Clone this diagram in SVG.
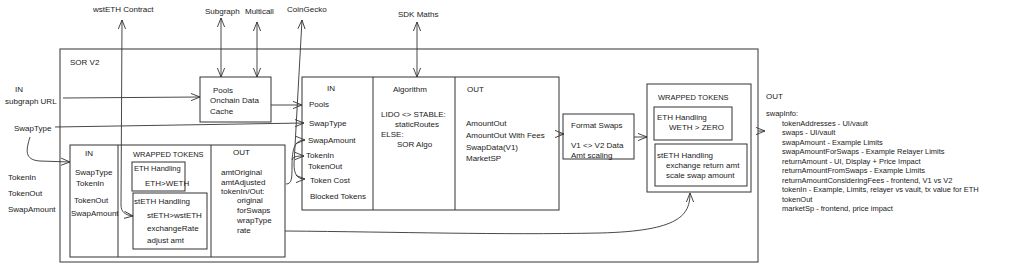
<svg xmlns="http://www.w3.org/2000/svg" width="1024" height="267" viewBox="0 0 1024 267">
<style>
.box{fill:none;stroke:#333;stroke-width:1}
.outer{fill:none;stroke:#555;stroke-width:1.2}
.ln{fill:none;stroke:#333;stroke-width:0.9}
text{font-family:"Liberation Sans",Arial,sans-serif;font-size:8px;fill:#1a1a1a}
.s{font-size:7.5px}
</style>
<defs>
<marker id="ah" viewBox="0 0 10 10" refX="10" refY="5" markerWidth="9" markerHeight="9" markerUnits="userSpaceOnUse" orient="auto-start-reverse">
<path d="M0,1 L10,5 L0,9" fill="none" stroke="#333" stroke-width="1"/>
</marker>
</defs>
<rect width="1024" height="267" fill="#fff"/>

<g id="external-labels">
<text x="93" y="12">wstETH Contract</text>
<text x="205" y="14">Subgraph</text>
<text x="245" y="14">Multicall</text>
<text x="287" y="12">CoinGecko</text>
<text x="398" y="17">SDK Maths</text>
</g>

<g id="inputs">
<text x="15" y="92">IN</text>
<text x="5" y="104">subgraph URL</text>
<text x="14" y="131">SwapType</text>
<text x="8" y="180">TokenIn</text>
<text x="8" y="196">TokenOut</text>
<text x="8" y="212">SwapAmount</text>
</g>

<g id="sor-v2">
<rect class="outer" x="60" y="49" width="698" height="213"/>
<text x="70" y="65">SOR V2</text>
</g>

<g id="pools">
<rect class="box" x="200" y="77" width="71" height="45"/>
<text x="213" y="93">Pools</text>
<text x="210" y="103">Onchain Data</text>
<text x="210" y="114">Cache</text>
</g>

<g id="prep">
<rect class="box" x="70" y="145" width="215" height="112"/>
<line class="box" x1="118" y1="145" x2="118" y2="257"/>
<line class="box" x1="211" y1="145" x2="211" y2="257"/>
<text x="85" y="156">IN</text>
<text x="75" y="175">SwapType</text>
<text x="76" y="186">TokenIn</text>
<text x="74" y="203">TokenOut</text>
<text x="71" y="216">SwapAmount</text>
<text class="s" x="133" y="157">WRAPPED TOKENS</text>
<rect class="box" x="132" y="162" width="53" height="29"/>
<text class="s" x="134" y="171">ETH Handling</text>
<text x="145" y="186">ETH&gt;WETH</text>
<rect class="box" x="133" y="193" width="74" height="56"/>
<text x="134" y="204">stETH Handling</text>
<text x="147" y="218">stETH&gt;wstETH</text>
<text x="147" y="231">exchangeRate</text>
<text x="147" y="243">adjust amt</text>
<text x="233" y="155">OUT</text>
<text x="221" y="175">amtOriginal</text>
<text x="221" y="185">amtAdjusted</text>
<text x="221" y="194">tokenIn/Out:</text>
<text x="237" y="203">original</text>
<text x="237" y="213">forSwaps</text>
<text x="237" y="223">wrapType</text>
<text x="237" y="233">rate</text>
</g>

<g id="algo">
<rect class="box" x="302" y="77" width="257" height="133"/>
<line class="box" x1="373" y1="77" x2="373" y2="210"/>
<line class="box" x1="455" y1="77" x2="455" y2="210"/>
<text x="327" y="91">IN</text>
<text x="309" y="107">Pools</text>
<text x="309" y="126">SwapType</text>
<text x="308" y="143">SwapAmount</text>
<text x="306" y="158">TokenIn</text>
<text x="308" y="169">TokenOut</text>
<text x="310" y="183">Token Cost</text>
<text x="310" y="199">Blocked Tokens</text>
<text x="393" y="92">Algorithm</text>
<text x="381" y="117">LIDO &lt;&gt; STABLE:</text>
<text x="395" y="127">staticRoutes</text>
<text x="381" y="137">ELSE:</text>
<text x="397" y="147">SOR Algo</text>
<text x="467" y="92">OUT</text>
<text x="466" y="126">AmountOut</text>
<text x="466" y="138">AmountOut With Fees</text>
<text x="466" y="150">SwapData(V1)</text>
<text x="466" y="161">MarketSP</text>
</g>

<g id="format-swaps">
<rect class="box" x="563" y="114" width="71" height="45"/>
<text x="571" y="128">Format Swaps</text>
<text x="571" y="148">V1 &lt;&gt; V2 Data</text>
<text x="571" y="158">Amt scaling</text>
</g>

<g id="wrapped-out">
<rect class="box" x="647" y="84" width="104" height="108"/>
<text class="s" x="658" y="100">WRAPPED TOKENS</text>
<rect class="box" x="654" y="107" width="78" height="33"/>
<text x="657" y="120">ETH Handling</text>
<text x="669" y="130">WETH &gt; ZERO</text>
<rect class="box" x="655" y="144" width="92" height="42"/>
<text x="657" y="158">stETH Handling</text>
<text x="666" y="168">exchange return amt</text>
<text x="666" y="178">scale swap amount</text>
</g>

<g id="output">
<text x="766" y="99">OUT</text>
<text class="s" x="766" y="116">swapInfo:</text>
<text class="s" x="782" y="126">tokenAddresses - UI/vault</text>
<text class="s" x="782" y="135">swaps - UI/vault</text>
<text class="s" x="782" y="145">swapAmount - Example Limits</text>
<text class="s" x="782" y="154">swapAmountForSwaps - Example Relayer Limits</text>
<text class="s" x="782" y="164">returnAmount - UI, Display + Price Impact</text>
<text class="s" x="782" y="173">returnAmountFromSwaps - Example Limits</text>
<text class="s" x="782" y="183">returnAmountConsideringFees - frontend, V1 vs V2</text>
<text class="s" x="782" y="192">tokenIn - Example, Limits, relayer vs vault, tx value for ETH</text>
<text class="s" x="782" y="202">tokenOut</text>
<text class="s" x="782" y="211">marketSp - frontend, price impact</text>
</g>

<g id="connectors">
<path class="ln" d="M133,216 C125,215 121,212 121,205 L122,20" marker-start="url(#ah)" marker-end="url(#ah)"/>
<path class="ln" d="M221,18 L221,77" marker-start="url(#ah)" marker-end="url(#ah)"/>
<path class="ln" d="M257,22 L257,77" marker-start="url(#ah)" marker-end="url(#ah)"/>
<path class="ln" d="M305,179 C297,179 294,174 294,164 L302,20" marker-start="url(#ah)" marker-end="url(#ah)"/>
<path class="ln" d="M286,184 C292,184 292,178 292,166 C292,148 295,140 305,140" marker-end="url(#ah)"/>
<path class="ln" d="M292,160 C293,156 298,156 304,156" marker-end="url(#ah)"/>
<path class="ln" d="M63,98 L200,97" marker-end="url(#ah)"/>
<path class="ln" d="M55,127 L304,123" marker-end="url(#ah)"/>
<path class="ln" d="M30,137 C26,150 24,160 40,161 L70,162" marker-end="url(#ah)"/>
<path class="ln" d="M271,105 L302,105" marker-end="url(#ah)"/>
<path class="ln" d="M417,22 L417,77" marker-start="url(#ah)" marker-end="url(#ah)"/>
<path class="ln" d="M559,134 L564,134" marker-end="url(#ah)"/>
<path class="ln" d="M634,137 L647,137" marker-end="url(#ah)"/>
<path class="ln" d="M758,131 L765,131" marker-end="url(#ah)"/>
<path class="ln" d="M285,231 C400,232 500,235 600,233 C680,231 690,215 690,193" marker-end="url(#ah)"/>
</g>
</svg>
